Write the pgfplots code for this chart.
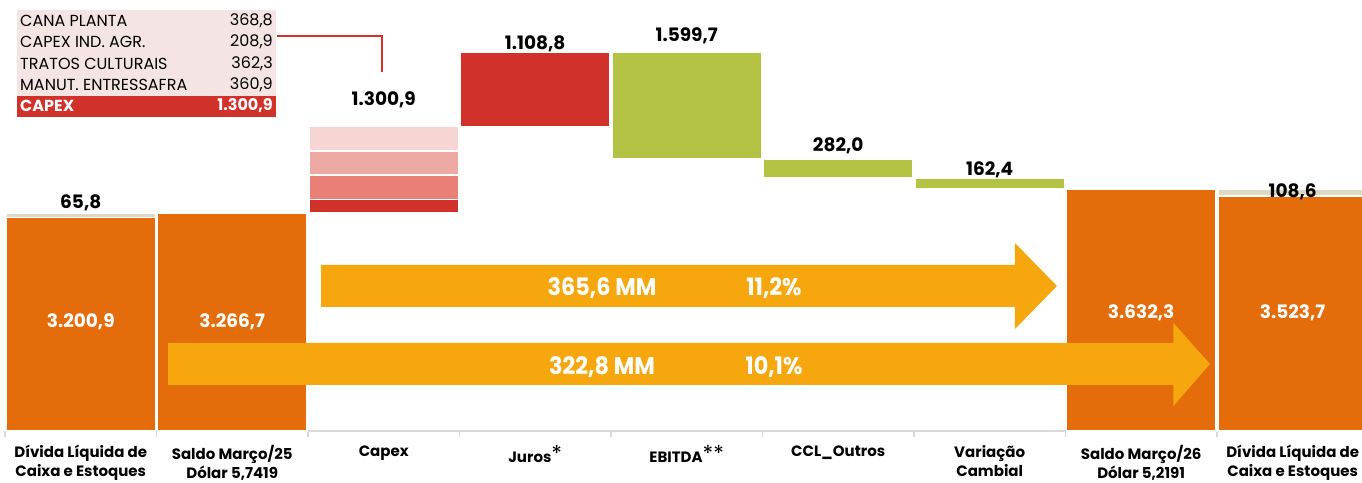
\documentclass[border=0pt]{standalone}
\usepackage{pgfplots}
\pgfplotsset{compat=1.18}
\usepackage{fontspec}
\setmainfont{Poppins}
\newfontfamily\arrowfont{Poppins}[FakeStretch=0.93]
\definecolor{orng}{HTML}{E46C0A}
\definecolor{capgray}{HTML}{DDD9C3}
\definecolor{capred}{HTML}{D0312A}
\definecolor{capb}{HTML}{E88078}
\definecolor{capc}{HTML}{EDAAA5}
\definecolor{capd}{HTML}{F6D5D3}
\definecolor{grn}{HTML}{B5C344}
\definecolor{arrowc}{HTML}{F6A70E}
\definecolor{axisgray}{HTML}{D9D9D9}
\definecolor{tablebg}{HTML}{F4E4E4}
\newcommand{\myast}[1]{\raisebox{1pt}{\fontsize{22}{22}\selectfont\mdseries #1}}
\pgfplotsset{geom/.style={scale only axis, width=1363.5pt, height=431pt,
  at={(5pt,51pt)}, anchor=south west,
  xmin=-0.5, xmax=8.5, ymin=0, ymax=6465, clip=false}}
\begin{document}
\begin{tikzpicture}[x=1pt,y=1pt]
\begin{axis}[geom,
  ybar stacked, bar width=149.5pt,
  axis y line=none, axis x line*=bottom,
  axis line style={draw=axisgray, line width=1.5pt},
  xtick={0,...,8},
  xticklabels={{Dívida Líquida de\\Caixa e Estoques},{Saldo Março/25\\Dólar 5,7419},Capex,{Juros\myast{*}},{EBITDA\myast{**}},CCL\_Outros,{Variação\\Cambial},{Saldo Março/26\\Dólar 5,2191},{Dívida Líquida de\\Caixa e Estoques}},
  major tick length=0pt,
  minor xtick={-0.5,0.5,...,8.5},
  minor tick length=6pt, tick align=outside,
  every minor tick/.style={draw=axisgray, line width=1.5pt},
  xticklabel style={font=\bfseries\fontsize{15}{19}\selectfont, align=center, anchor=north, yshift=-11pt},
  every axis plot/.append style={draw=white, line width=1.5pt},
]
\addplot[draw=none, fill=none] coordinates {(0,0)(1,0)(2,3266.7)(3,4567.6)(4,4076.7)(5,3794.7)(6,3632.3)(7,0)(8,0)};
\addplot[fill=orng] coordinates {(0,3200.9)(1,3266.7)(2,0)(3,0)(4,0)(5,0)(6,0)(7,3632.3)(8,3523.7)};
\addplot[fill=capgray] coordinates {(0,65.8)(1,0)(2,0)(3,0)(4,0)(5,0)(6,0)(7,0)(8,108.6)};
\addplot[fill=capred] coordinates {(0,0)(1,0)(2,208.9)(3,0)(4,0)(5,0)(6,0)(7,0)(8,0)};
\addplot[fill=capb] coordinates {(0,0)(1,0)(2,360.9)(3,0)(4,0)(5,0)(6,0)(7,0)(8,0)};
\addplot[fill=capc] coordinates {(0,0)(1,0)(2,362.3)(3,0)(4,0)(5,0)(6,0)(7,0)(8,0)};
\addplot[fill=capd] coordinates {(0,0)(1,0)(2,368.8)(3,0)(4,0)(5,0)(6,0)(7,0)(8,0)};
\addplot[fill=capred] coordinates {(0,0)(1,0)(2,0)(3,1108.8)(4,0)(5,0)(6,0)(7,0)(8,0)};
\addplot[fill=grn] coordinates {(0,0)(1,0)(2,0)(3,0)(4,1599.7)(5,282.0)(6,162.4)(7,0)(8,0)};
\end{axis}
\begin{axis}[geom, hide axis]
% arrows
\fill[arrowc] (axis cs:1.586,1860) -- (axis cs:6.167,1860) -- (axis cs:6.167,1530) -- (axis cs:6.444,2175) -- (axis cs:6.167,2820) -- (axis cs:6.167,2490) -- (axis cs:1.586,2490) -- cycle;
\fill[arrowc] (axis cs:0.576,690) -- (axis cs:7.213,690) -- (axis cs:7.213,375) -- (axis cs:7.454,1005) -- (axis cs:7.213,1620) -- (axis cs:7.213,1320) -- (axis cs:0.576,1320) -- cycle;
\node[font=\arrowfont\bfseries\fontsize{24}{24}\selectfont, text=white] at (axis cs:3.441,2145) {365,6 MM};
\node[font=\arrowfont\bfseries\fontsize{24}{24}\selectfont, text=white] at (axis cs:4.576,2145) {11,2\%};
\node[font=\arrowfont\bfseries\fontsize{24}{24}\selectfont, text=white] at (axis cs:3.441,960) {322,8 MM};
\node[font=\arrowfont\bfseries\fontsize{24}{24}\selectfont, text=white] at (axis cs:4.576,960) {10,1\%};
\node[font=\bfseries\fontsize{18.5}{18}\selectfont] at (axis cs:0,3420) {65,8};
\node[font=\bfseries\fontsize{18.5}{18}\selectfont, text=white] at (axis cs:0,1635) {3.200,9};
\node[font=\bfseries\fontsize{18.5}{18}\selectfont, text=white] at (axis cs:1,1635) {3.266,7};
\node[font=\bfseries\fontsize{18.5}{18}\selectfont] at (axis cs:2,4965) {1.300,9};
\node[font=\bfseries\fontsize{18.5}{18}\selectfont] at (axis cs:3,5805) {1.108,8};
\node[font=\bfseries\fontsize{18.5}{18}\selectfont] at (axis cs:4,5925) {1.599,7};
\node[font=\bfseries\fontsize{18.5}{18}\selectfont] at (axis cs:5,4275) {282,0};
\node[font=\bfseries\fontsize{18.5}{18}\selectfont] at (axis cs:6,3915) {162,4};
\node[font=\bfseries\fontsize{18.5}{18}\selectfont, text=white] at (axis cs:7,1770) {3.632,3};
\node[font=\bfseries\fontsize{18.5}{18}\selectfont, text=white] at (axis cs:8,1770) {3.523,7};
\node[font=\bfseries\fontsize{18.5}{18}\selectfont] at (axis cs:8,3585) {108,6};
\end{axis}
% capex breakdown table
\fill[tablebg] (17,365) rectangle (276,472);
\fill[capred] (17,365) rectangle (276,386);
\node[anchor=west, inner sep=0pt, font=\fontsize{16}{16}\selectfont] at (20,461) {CANA PLANTA};
\node[anchor=east, inner sep=0pt, font=\fontsize{16}{16}\selectfont] at (273,461) {368,8};
\node[anchor=west, inner sep=0pt, font=\fontsize{16}{16}\selectfont] at (20,440) {CAPEX IND. AGR.};
\node[anchor=east, inner sep=0pt, font=\fontsize{16}{16}\selectfont] at (273,440) {208,9};
\node[anchor=west, inner sep=0pt, font=\fontsize{16}{16}\selectfont] at (20,418) {TRATOS CULTURAIS};
\node[anchor=east, inner sep=0pt, font=\fontsize{16}{16}\selectfont] at (273,418) {362,3};
\node[anchor=west, inner sep=0pt, font=\fontsize{16}{16}\selectfont] at (20,397) {MANUT. ENTRESSAFRA};
\node[anchor=east, inner sep=0pt, font=\fontsize{16}{16}\selectfont] at (273,397) {360,9};
\node[anchor=west, inner sep=0pt, text=white, font=\bfseries\fontsize{16}{16}\selectfont] at (20,376) {CAPEX};
\node[anchor=east, inner sep=0pt, text=white, font=\bfseries\fontsize{16}{16}\selectfont] at (273,376) {1.300,9};
\draw[capred, line width=1.2pt] (277,446) -- (382,446) -- (382,410);
\pgfresetboundingbox
\path[use as bounding box] (0,0) rectangle (1362,482);
\end{tikzpicture}
\end{document}
